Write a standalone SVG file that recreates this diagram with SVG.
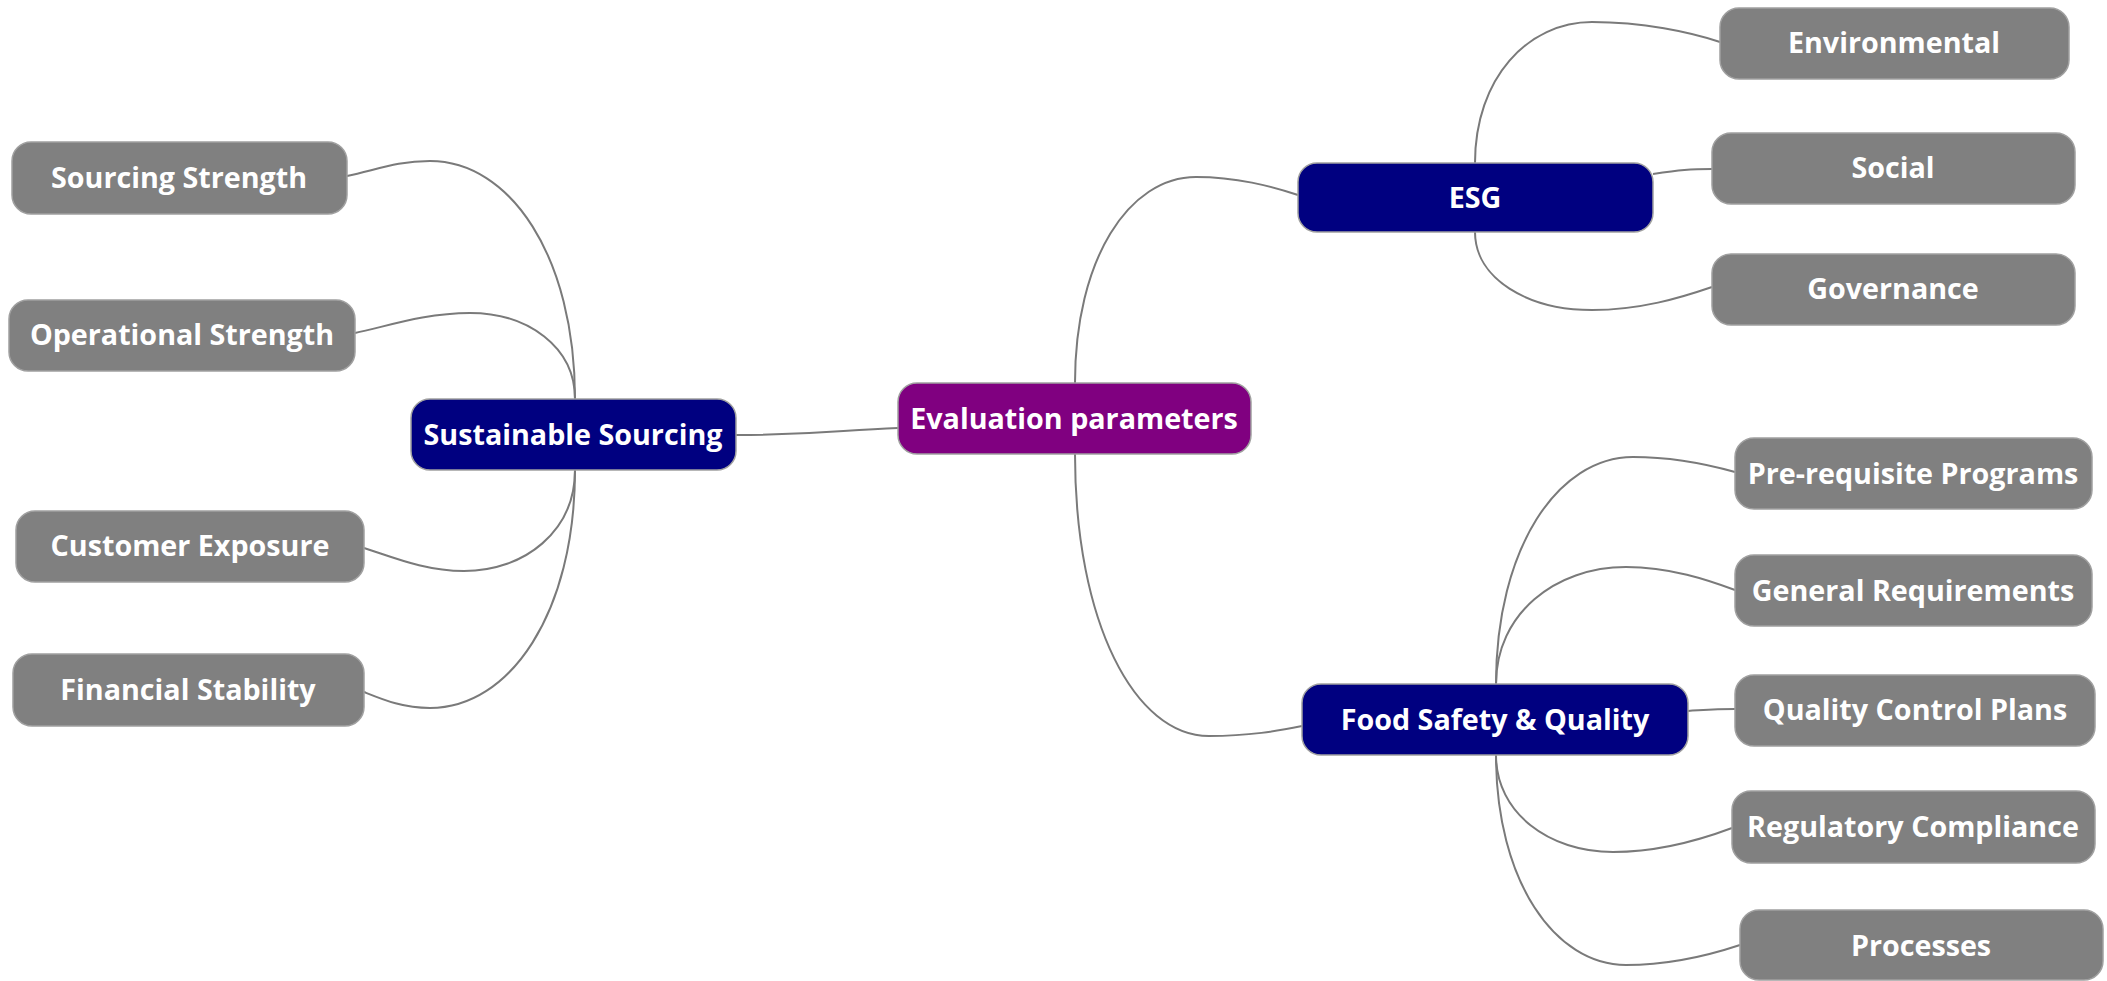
<svg xmlns="http://www.w3.org/2000/svg" width="2107" height="981" viewBox="0 0 2107 981">
<style>
.box{stroke:#a0a0a0;stroke-width:1.5}
.root{fill:#800080}
.main{fill:#000080}
.leaf{fill:#808080}
.lbl{font-family:"Open Sans","Noto Sans","DejaVu Sans",sans-serif;font-weight:700;font-size:28.7px;fill:#ffffff;text-anchor:middle;dominant-baseline:central}
.edge{fill:none;stroke:#7a7a7a;stroke-width:2}
</style>
<rect width="2107" height="981" fill="#ffffff"/>
<g id="connectors">
<path class="edge" d="M575,399 C575,256 510,161 430,161 C397,161 376,170 347,176"/>
<path class="edge" d="M575,399 C575,347 528,313 470,313 C424,313 385,327 355,333"/>
<path class="edge" d="M575,470 C575,531 525,571 464,571 C424,571 390,556 364,548"/>
<path class="edge" d="M575,470 C575,613 510,708 430,708 C403,708 384,700 364,692"/>
<path class="edge" d="M736,435 C820,435 840,430 898,428"/>
<path class="edge" d="M1075,383 C1075,259 1129,177 1196,177 C1237,177 1270,186 1298,195"/>
<path class="edge" d="M1075,454 C1075,623 1135,736 1209,736 C1250,736 1277,731 1302,726"/>
<path class="edge" d="M1475,163 C1475,78 1528,22 1592,22 C1643,22 1690,32 1720,42"/>
<path class="edge" d="M1653,174 C1680,170 1690,169 1712,169"/>
<path class="edge" d="M1475,232 C1475,279 1528,310 1592,310 C1640,310 1680,298 1712,287"/>
<path class="edge" d="M1496,684 C1496,548 1558,457 1633,457 C1675,457 1710,465 1735,472"/>
<path class="edge" d="M1496,684 C1496,614 1555,567 1626,567 C1670,567 1708,580 1735,590"/>
<path class="edge" d="M1688,711 C1705,710 1715,709 1735,709"/>
<path class="edge" d="M1496,755 C1496,813 1549,852 1613,852 C1660,852 1700,840 1732,828"/>
<path class="edge" d="M1496,755 C1496,881 1555,965 1626,965 C1670,965 1710,955 1740,945"/>
</g>
<g id="evaluation-parameters"><rect class="box root" x="898" y="383" width="353" height="71" rx="19"/><text class="lbl" x="1074" y="417">Evaluation parameters</text></g>
<g id="sustainable-sourcing"><rect class="box main" x="411" y="399" width="325" height="71" rx="19"/><text class="lbl" x="573" y="433">Sustainable Sourcing</text></g>
<g id="esg"><rect class="box main" x="1298" y="163" width="355" height="69" rx="19"/><text class="lbl" x="1475" y="196">ESG</text></g>
<g id="food-safety"><rect class="box main" x="1302" y="684" width="386" height="71" rx="19"/><text class="lbl" x="1495" y="718">Food Safety &amp; Quality</text></g>
<g id="sourcing-strength"><rect class="box leaf" x="12" y="142" width="335" height="72" rx="19"/><text class="lbl" x="179" y="176">Sourcing Strength</text></g>
<g id="operational-strength"><rect class="box leaf" x="9" y="300" width="346" height="71" rx="19"/><text class="lbl" x="182" y="333">Operational Strength</text></g>
<g id="customer-exposure"><rect class="box leaf" x="16" y="511" width="348" height="71" rx="19"/><text class="lbl" x="190" y="544">Customer Exposure</text></g>
<g id="financial-stability"><rect class="box leaf" x="13" y="654" width="351" height="72" rx="19"/><text class="lbl" x="188" y="688">Financial Stability</text></g>
<g id="environmental"><rect class="box leaf" x="1720" y="8" width="349" height="71" rx="19"/><text class="lbl" x="1894" y="41">Environmental</text></g>
<g id="social"><rect class="box leaf" x="1712" y="133" width="363" height="71" rx="19"/><text class="lbl" x="1893" y="166">Social</text></g>
<g id="governance"><rect class="box leaf" x="1712" y="254" width="363" height="71" rx="19"/><text class="lbl" x="1893" y="287">Governance</text></g>
<g id="pre-requisite"><rect class="box leaf" x="1735" y="438" width="357" height="71" rx="19"/><text class="lbl" x="1913" y="472">Pre-requisite Programs</text></g>
<g id="general-requirements"><rect class="box leaf" x="1735" y="555" width="357" height="71" rx="19"/><text class="lbl" x="1913" y="589">General Requirements</text></g>
<g id="quality-control"><rect class="box leaf" x="1735" y="675" width="360" height="71" rx="19"/><text class="lbl" x="1915" y="708">Quality Control Plans</text></g>
<g id="regulatory-compliance"><rect class="box leaf" x="1732" y="791" width="363" height="72" rx="19"/><text class="lbl" x="1913" y="825">Regulatory Compliance</text></g>
<g id="processes"><rect class="box leaf" x="1740" y="910" width="363" height="70" rx="19"/><text class="lbl" x="1921" y="944">Processes</text></g>
</svg>
